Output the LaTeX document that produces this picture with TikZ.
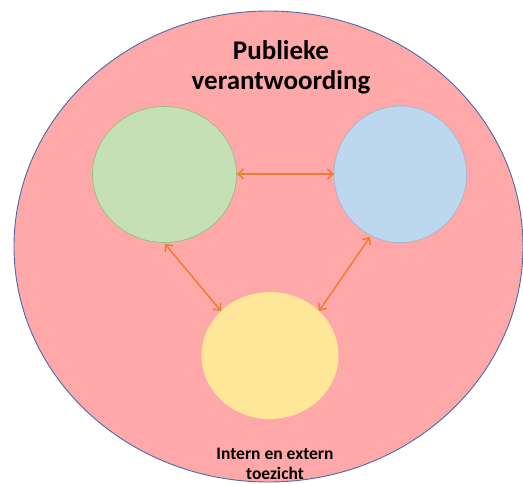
\documentclass[tikz,border=0pt]{standalone}
\usepackage{fontspec}
\setmainfont{Carlito}
\usetikzlibrary{arrows.meta}
\definecolor{outerfill}{HTML}{FFA8A9}
\definecolor{outerline}{HTML}{4A6BA8}
\definecolor{greenfill}{HTML}{C5E0B4}
\definecolor{greenline}{HTML}{8CC07A}
\definecolor{bluefill}{HTML}{BDD7EE}
\definecolor{blueline}{HTML}{A0B4C8}
\definecolor{yellowfill}{HTML}{FFE699}
\definecolor{arrowcol}{HTML}{ED7D31}
\tikzset{
  link/.style={draw=arrowcol, line width=1.5pt,
    {Straight Barb[length=5.5pt,width=10pt,line width=1.5pt]}-{Straight Barb[length=5.5pt,width=10pt,line width=1.5pt]}},
  bigtitle/.style={font=\fontsize{27}{30}\selectfont\bfseries, align=center, text=black},
  smalltitle/.style={font=\fontsize{17.5}{20}\selectfont\bfseries, align=center, text=black},
}
\begin{document}
\begin{tikzpicture}[x=1pt, y=-1pt]
  \useasboundingbox (0,0) rectangle (523,483);
  % outer ellipse
  \path[fill=outerfill, draw=outerline, line width=0.9pt] (268.5,246.5) ellipse [x radius=254.5, y radius=235.5];
  % inner circles
  \path[fill=greenfill, draw=greenline, line width=0.6pt] (164.5,174.5) ellipse [x radius=72, y radius=68];
  \path[fill=bluefill, draw=blueline, line width=0.6pt] (400.3,174.3) ellipse [x radius=66.3, y radius=68.3];
  \path[fill=yellowfill] (270,355.5) ellipse [x radius=68.5, y radius=63.5];
  % anchor points on the circles
  \coordinate (gR) at (237,174);
  \coordinate (bL) at (334,174);
  \coordinate (gB) at (165,244);
  \coordinate (yL) at (221,311);
  \coordinate (bB) at (370,237);
  \coordinate (yR) at (319,311);
  % connectors
  \draw[link] (gR) -- (bL);
  \draw[link] (gB) -- (yL);
  \draw[link] (bB) -- (yR);
  % labels
  \node[bigtitle] (top) at (281,67) {Publieke\\verantwoording};
  \node[smalltitle] (bottom) at (275,464) {Intern en extern\\toezicht};
\end{tikzpicture}
\end{document}
